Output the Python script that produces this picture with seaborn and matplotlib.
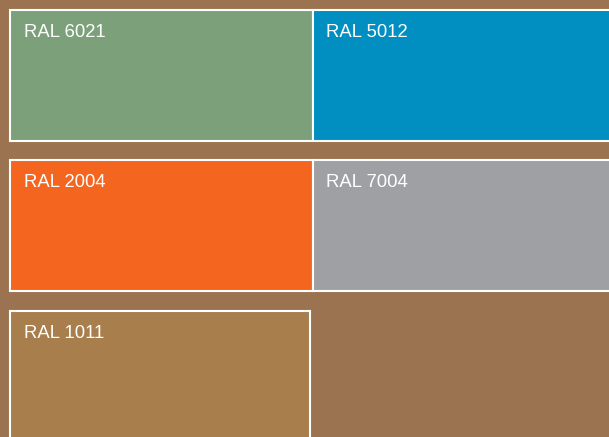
import matplotlib
matplotlib.use("Agg")
import matplotlib.pyplot as plt
from matplotlib.patches import Rectangle
import seaborn as sns

# swatch data
labels = ["RAL 6021", "RAL 5012", "RAL 2004", "RAL 7004", "RAL 1011"]
colors = ["#7ba07a", "#008fc0", "#f46520", "#9ea0a3", "#a87e4c"]
background = "#9c7350"

sns.set_theme(style="white")
plt.rcParams["font.family"] = ["Liberation Sans", "DejaVu Sans"]

W, H = 609, 437
fig = plt.figure(figsize=(W / 100, H / 100), dpi=100)
fig.patch.set_facecolor(background)
ax = fig.add_axes([0, 0, 1, 1])
ax.set_facecolor(background)
ax.set_xlim(0, W)
ax.set_ylim(H, 0)
ax.axis("off")

col_x = [10, 313]
col_w = [303, 300]
row_y = [10, 160, 311]
cell_h = 131

for i, (label, color) in enumerate(zip(labels, colors)):
    r, c = divmod(i, 2)
    x, y = col_x[c], row_y[r]
    w = col_w[c] if r < 2 else 300
    ax.add_patch(Rectangle((x, y), w, cell_h, facecolor=color,
                           edgecolor="white", linewidth=1.5))
    ax.text(x + 14 - c, y + 27, label, color="white", fontsize=13.3,
            va="baseline", ha="left")

fig.savefig("out.png", dpi=100, facecolor=background)
